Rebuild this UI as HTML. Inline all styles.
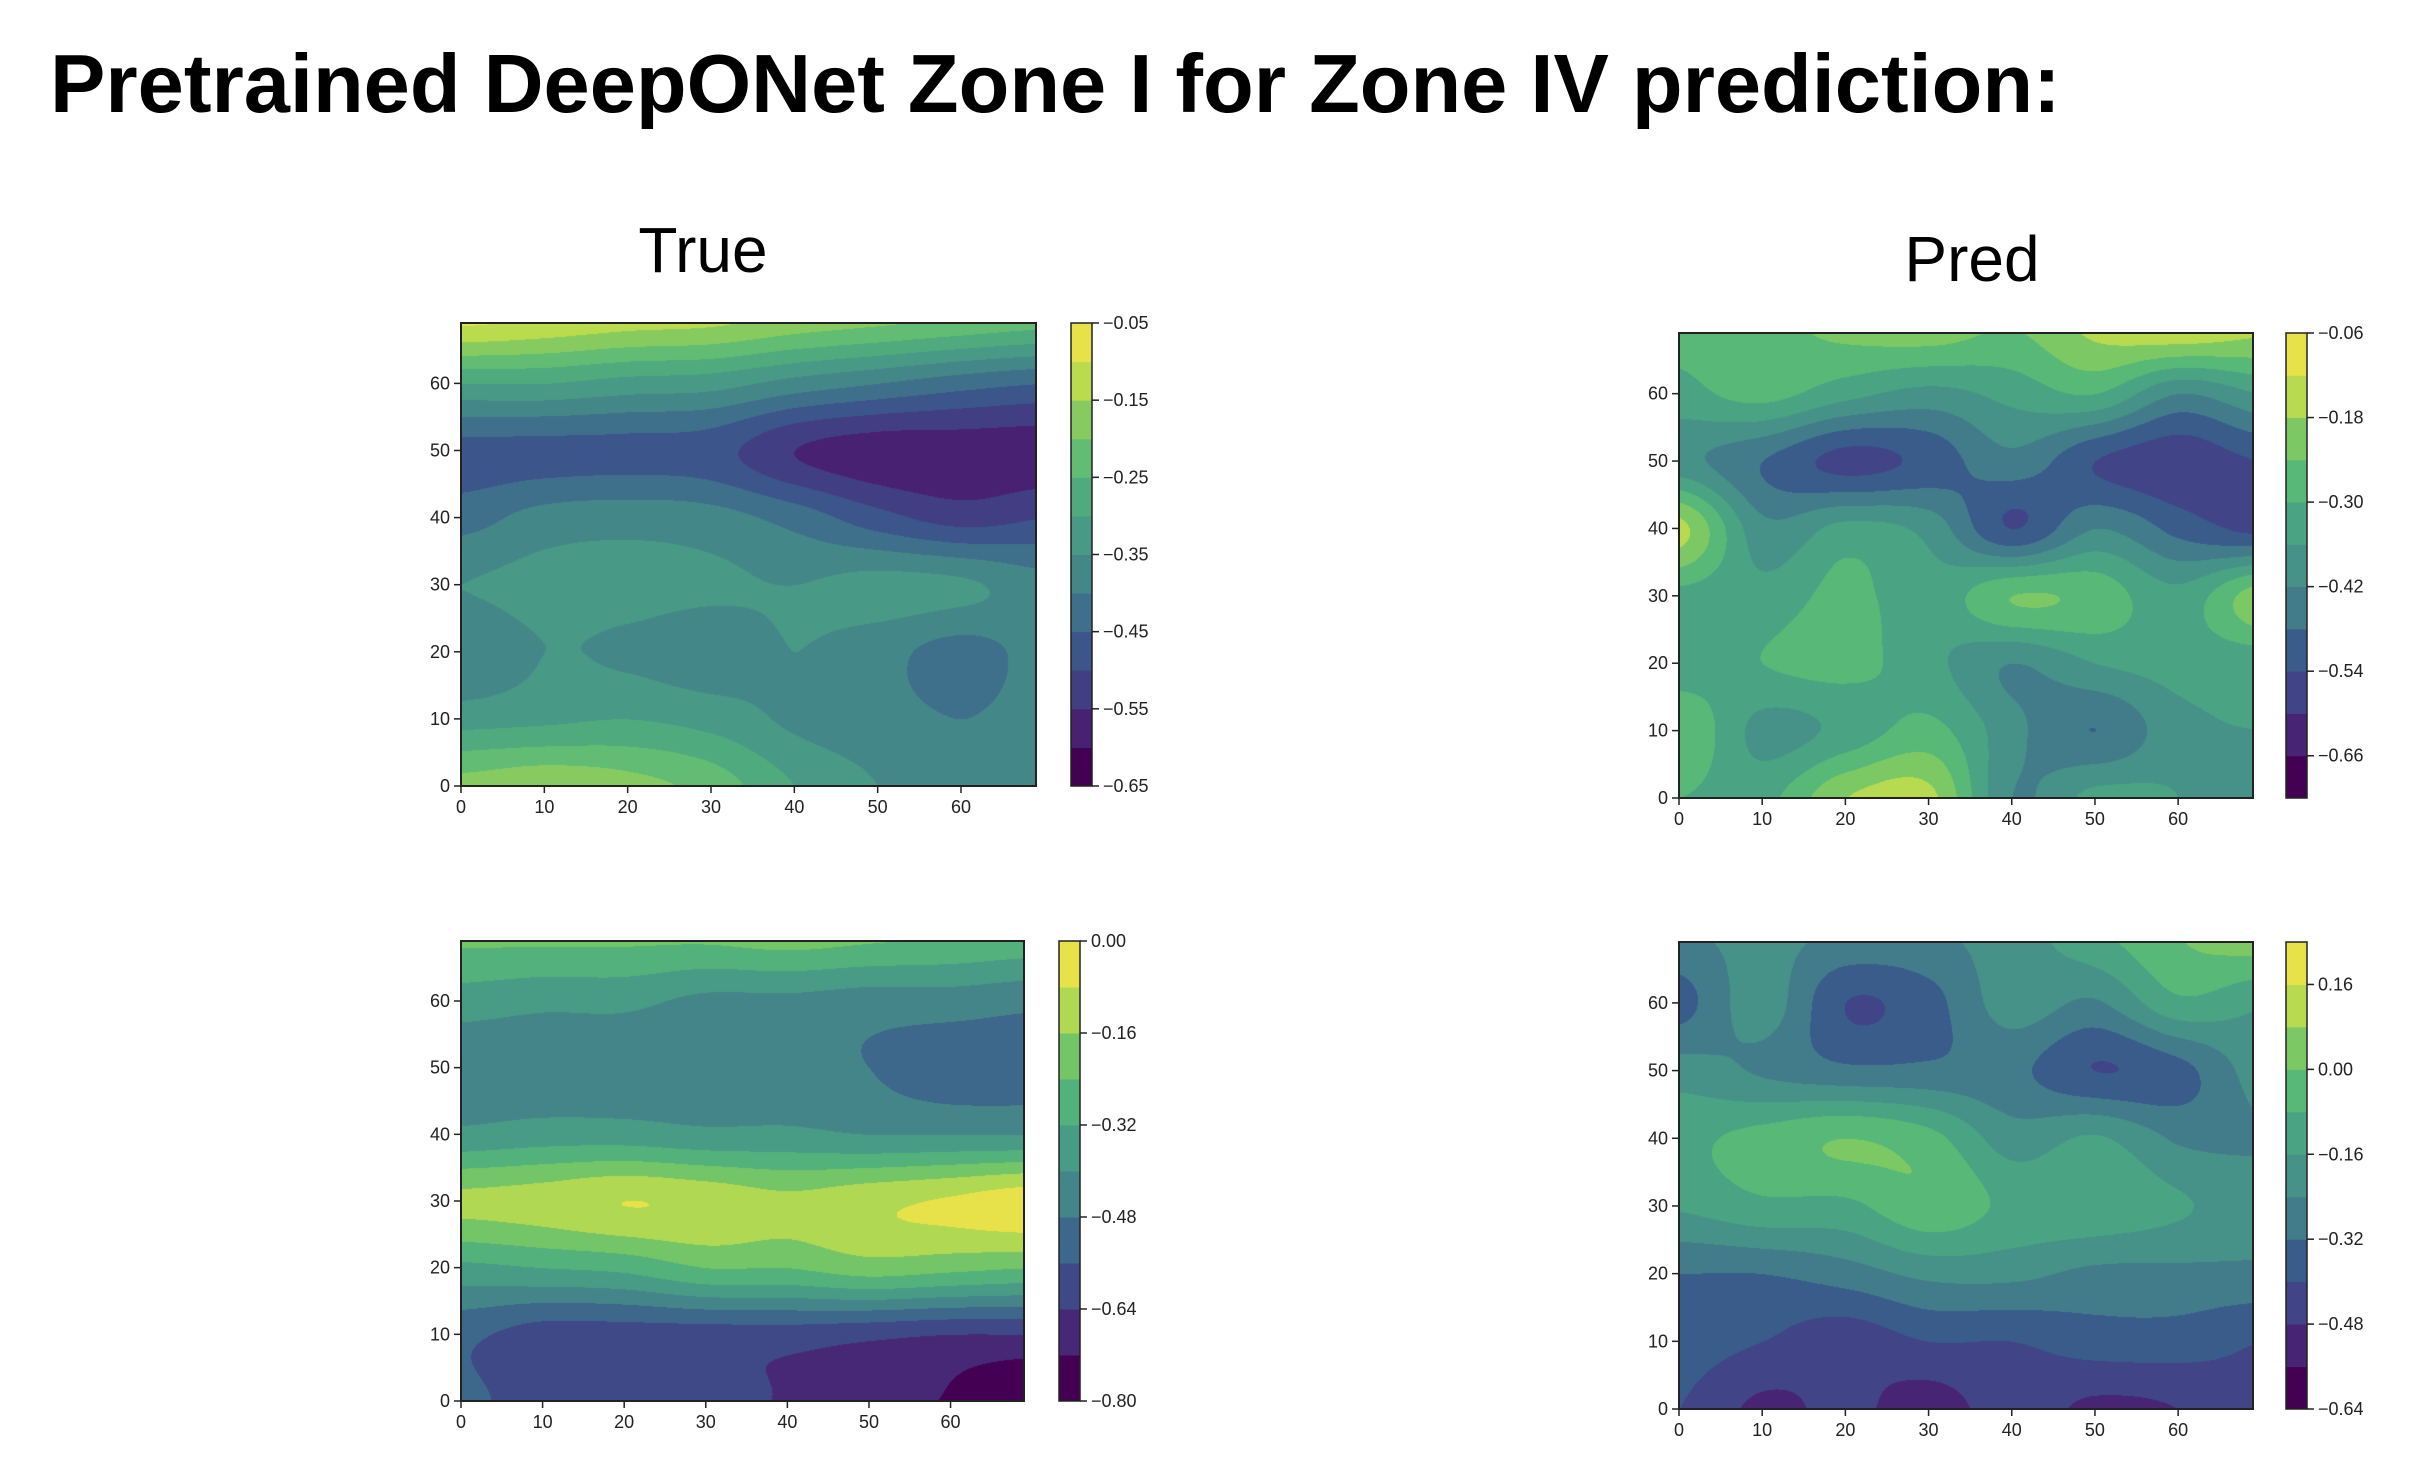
<!DOCTYPE html>
<html><head><meta charset="utf-8"><style>
html,body{margin:0;padding:0;background:#fff;width:2418px;height:1468px;overflow:hidden;position:relative;font-family:"Liberation Sans",sans-serif}
canvas{position:absolute}
#ov{position:absolute;left:0;top:0}
</style></head><body>
<div></div>
<canvas id="c0"></canvas>
<canvas id="c1"></canvas>
<canvas id="c2"></canvas>
<canvas id="c3"></canvas>
<svg id="ov" width="2418" height="1468">
<text x="50" y="112" font-size="83" font-weight="bold" fill="#000">Pretrained DeepONet Zone I for Zone IV prediction:</text>
<text x="703" y="272" font-size="64" text-anchor="middle" fill="#000">True</text>
<text x="1972" y="281" font-size="64" text-anchor="middle" fill="#000">Pred</text>
</svg>
<script>
// Grid values: rows y=70,60,...,0 (top to bottom), cols x=0,10,...,70
const gridTrueTop = [
[-0.08,-0.10,-0.12,-0.13,-0.16,-0.18,-0.20,-0.22],
[-0.30,-0.30,-0.32,-0.33,-0.37,-0.40,-0.43,-0.45],
[-0.47,-0.47,-0.47,-0.48,-0.55,-0.58,-0.58,-0.58],
[-0.42,-0.38,-0.37,-0.38,-0.42,-0.48,-0.52,-0.50],
[-0.35,-0.33,-0.33,-0.34,-0.35,-0.33,-0.34,-0.38],
[-0.40,-0.35,-0.36,-0.38,-0.35,-0.38,-0.42,-0.38],
[-0.32,-0.31,-0.30,-0.32,-0.36,-0.38,-0.40,-0.38],
[-0.18,-0.16,-0.18,-0.22,-0.30,-0.35,-0.38,-0.38]];
const gridPredTop = [
[-0.28,-0.26,-0.22,-0.20,-0.24,-0.16,-0.12,-0.16],
[-0.32,-0.28,-0.34,-0.38,-0.34,-0.30,-0.42,-0.36],
[-0.40,-0.48,-0.56,-0.52,-0.44,-0.54,-0.58,-0.54],
[-0.16,-0.40,-0.34,-0.38,-0.54,-0.42,-0.50,-0.56],
[-0.32,-0.34,-0.28,-0.34,-0.24,-0.26,-0.34,-0.20],
[-0.34,-0.30,-0.28,-0.34,-0.42,-0.36,-0.34,-0.34],
[-0.24,-0.38,-0.34,-0.28,-0.40,-0.48,-0.38,-0.36],
[-0.30,-0.32,-0.18,-0.16,-0.42,-0.34,-0.36,-0.42]];
const gridTrueBot = [
[-0.22,-0.22,-0.22,-0.22,-0.20,-0.22,-0.24,-0.26],
[-0.36,-0.38,-0.38,-0.42,-0.42,-0.44,-0.44,-0.46],
[-0.46,-0.46,-0.46,-0.46,-0.46,-0.48,-0.52,-0.52],
[-0.38,-0.36,-0.36,-0.38,-0.38,-0.40,-0.40,-0.40],
[-0.14,-0.12,-0.08,-0.10,-0.14,-0.10,-0.07,-0.03],
[-0.34,-0.32,-0.30,-0.24,-0.24,-0.20,-0.22,-0.24],
[-0.54,-0.60,-0.60,-0.60,-0.60,-0.62,-0.64,-0.64],
[-0.54,-0.60,-0.60,-0.60,-0.65,-0.68,-0.73,-0.80]];
const gridPredBot = [
[-0.25,-0.22,-0.25,-0.25,-0.20,-0.10,0.00,0.05],
[-0.35,-0.20,-0.40,-0.35,-0.20,-0.25,-0.10,-0.15],
[-0.20,-0.25,-0.30,-0.30,-0.30,-0.40,-0.35,-0.20],
[-0.10,-0.05,0.00,-0.05,-0.20,-0.15,-0.25,-0.25],
[-0.15,-0.10,-0.10,-0.02,-0.10,-0.10,-0.15,-0.20],
[-0.32,-0.32,-0.28,-0.22,-0.22,-0.26,-0.26,-0.26],
[-0.36,-0.40,-0.45,-0.40,-0.40,-0.36,-0.36,-0.40],
[-0.40,-0.50,-0.46,-0.52,-0.44,-0.50,-0.48,-0.40]];
const levelsTrueTop = [-0.65,-0.05,0.05];
const levelsPredTop = [-0.72,-0.06,0.06];
const levelsTrueBot = [-0.80,0.00,0.08];
const levelsPredBot = [-0.64,0.24,0.08];
const ticksTrueTop = ["−0.05","−0.15","−0.25","−0.35","−0.45","−0.55","−0.65"];
const tickValsTrueTop = [-0.05,-0.15,-0.25,-0.35,-0.45,-0.55,-0.65];
const ticksPredTop = ["−0.06","−0.18","−0.30","−0.42","−0.54","−0.66"];
const tickValsPredTop = [-0.06,-0.18,-0.30,-0.42,-0.54,-0.66];
const ticksTrueBot = ["0.00","−0.16","−0.32","−0.48","−0.64","−0.80"];
const tickValsTrueBot = [0.00,-0.16,-0.32,-0.48,-0.64,-0.80];
const ticksPredBot = ["0.16","0.00","−0.16","−0.32","−0.48","−0.64"];
const tickValsPredBot = [0.16,0.00,-0.16,-0.32,-0.48,-0.64];
const axisTicks = [0,10,20,30,40,50,60];

const V=[[68,1,84],[72,36,117],[65,68,135],[58,92,139],[66,124,139],[70,145,136],[74,163,130],[88,184,120],[124,200,100],[183,218,80],[232,226,74]];
function vir(t){t=Math.max(0,Math.min(1,t));const f=t*10,i=Math.min(9,Math.floor(f)),r=f-i;return V[i].map((c,k)=>Math.round(c+(V[i+1][k]-c)*r));}
const NS="http://www.w3.org/2000/svg";
const ov=document.getElementById('ov');
function el(tag,attrs,txt){const e=document.createElementNS(NS,tag);for(const k in attrs)e.setAttribute(k,attrs[k]);if(txt!==undefined)e.textContent=txt;ov.appendChild(e);return e;}
function cr(p0,p1,p2,p3,t){return 0.5*((2*p1)+(-p0+p2)*t+(2*p0-5*p1+4*p2-p3)*t*t+(-p0+3*p1-3*p2+p3)*t*t*t);}
function gv(g,r,c){r=Math.max(0,Math.min(7,r));c=Math.max(0,Math.min(7,c));return g[r][c];}
function sample(g,x,y){
  const cx=x/10, ry=(70-y)/10;
  const c0=Math.min(6,Math.floor(cx)), r0=Math.min(6,Math.floor(ry));
  const fx=cx-c0, fy=ry-r0;
  const rows=[];
  for(let k=-1;k<=2;k++)rows.push(cr(gv(g,r0+k,c0-1),gv(g,r0+k,c0),gv(g,r0+k,c0+1),gv(g,r0+k,c0+2),fx));
  return cr(rows[0],rows[1],rows[2],rows[3],fy);
}
function panel(id,name,g,lv,tl,tv,L,T,R,B,CL,CR){
  const cv=document.getElementById(id);
  const W=R-L,H=B-T;cv.width=W;cv.height=H;cv.style.left=L+'px';cv.style.top=T+'px';
  const ctx=cv.getContext('2d');const img=ctx.createImageData(W,H);
  const lo=lv[0],hi=lv[1],st=lv[2];const n=Math.round((hi-lo)/st);
  for(let py=0;py<H;py++)for(let px=0;px<W;px++){
    const x=px/W*69,y=69-py/H*69;let v=sample(g,x,y);
    let b=Math.floor((v-lo)/st);b=Math.max(0,Math.min(n-1,b));
    const col=vir(b/(n-1));const o=(py*W+px)*4;
    img.data[o]=col[0];img.data[o+1]=col[1];img.data[o+2]=col[2];img.data[o+3]=255;}
  ctx.putImageData(img,0,0);
  const sx=v=>L+v/69*W, sy=v=>B-v/69*H;
  const fr=el('rect',{x:L,y:T,width:W,height:H,fill:'none',stroke:'#222','stroke-width':2});
  
  
  axisTicks.forEach(t=>{
    el('line',{x1:sx(t),x2:sx(t),y1:B,y2:B+7,stroke:'#222','stroke-width':1.5});
    const tx=el('text',{x:sx(t),y:B+27,'font-size':18,'text-anchor':'middle',fill:'#222'},String(t));
    
    
    el('line',{x1:L-7,x2:L,y1:sy(t),y2:sy(t),stroke:'#222','stroke-width':1.5});
    const ty=el('text',{x:L-11,y:sy(t)+6,'font-size':18,'text-anchor':'end',fill:'#222'},String(t));
    
    
  });
  const bh=(B-T)/n;
  for(let i=0;i<n;i++){const c=vir(i/(n-1));
    const r=el('rect',{x:CL,y:B-(i+1)*bh,width:CR-CL,height:bh+0.5,fill:`rgb(${c})`});
    
    }
  el('rect',{x:CL,y:T,width:CR-CL,height:H,fill:'none',stroke:'#222','stroke-width':1.5});
  tv.forEach((v,i)=>{const y=B-(v-lo)/(hi-lo)*H;
    el('line',{x1:CR,x2:CR+7,y1:y,y2:y,stroke:'#222','stroke-width':1.5});
    const t=el('text',{x:CR+11,y:y+6,'font-size':18,fill:'#222'},tl[i]);
    
    });
}
panel('c0','true-top',gridTrueTop,levelsTrueTop,ticksTrueTop,tickValsTrueTop,461,323,1036,786,1071,1092);
panel('c1','pred-top',gridPredTop,levelsPredTop,ticksPredTop,tickValsPredTop,1679,333,2253,798,2286,2307);
panel('c2','true-bottom',gridTrueBot,levelsTrueBot,ticksTrueBot,tickValsTrueBot,461,941,1024,1401,1059,1080);
panel('c3','pred-bottom',gridPredBot,levelsPredBot,ticksPredBot,tickValsPredBot,1679,942,2253,1409,2286,2307);
</script>
</body></html>
